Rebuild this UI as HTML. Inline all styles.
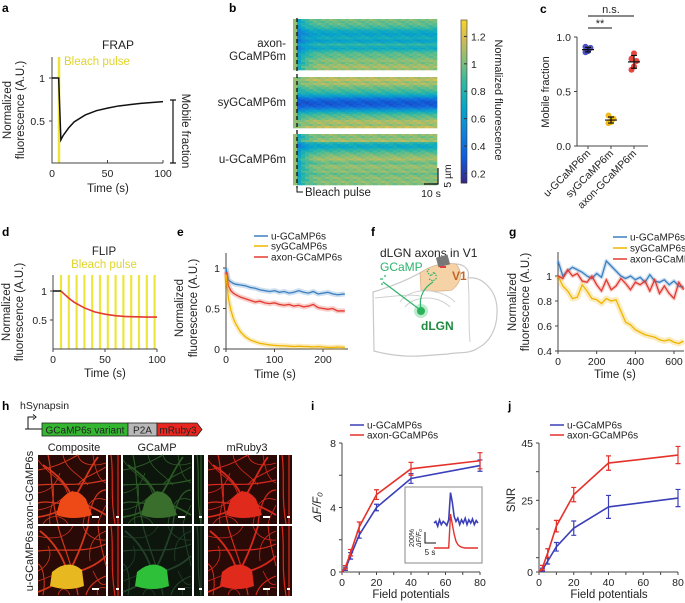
<!DOCTYPE html>
<html><head><meta charset="utf-8"><style>
html,body{margin:0;padding:0;background:#fff;}
svg{display:block;}
text{font-family:"Liberation Sans",sans-serif;fill:#222;}
.pl{font-weight:bold;font-size:12px;fill:#000;}
.tk{font-size:10.5px;}
.ax{stroke:#444;stroke-width:1;fill:none;}
</style></head><body>
<svg id="fig" width="685" height="603" viewBox="0 0 685 603" xmlns="http://www.w3.org/2000/svg">
<defs>
<g id="dendTop" fill="none" stroke="currentColor" stroke-width="1.8">
<path d="M35,45 C30,30 20,20 5,10"/><path d="M35,45 C45,30 50,15 60,2"/><path d="M35,45 C50,50 60,55 68,60"/><path d="M35,45 C25,55 15,60 0,62"/><path d="M0,30 C20,28 40,32 68,25" stroke-width="1.2"/><path d="M10,0 C15,20 12,40 20,69" stroke-width="1.2"/><path d="M50,69 C52,50 58,35 68,35" stroke-width="1.2"/><path d="M0,48 C10,45 20,50 30,48" stroke-width="1.2"/><path d="M0,15 C20,12 30,5 40,0" stroke-width="1"/><path d="M68,12 C55,20 45,22 40,30" stroke-width="1"/>
<path d="M0,5 C15,25 25,22 30,40" stroke-width="0.8"/><path d="M25,0 C28,15 40,18 50,30" stroke-width="0.8"/><path d="M68,45 C55,40 48,48 45,69" stroke-width="0.8"/><path d="M0,38 C12,36 18,30 22,18" stroke-width="0.8"/><path d="M5,69 C12,58 25,60 30,69" stroke-width="0.8"/><path d="M60,69 C62,60 66,55 68,50" stroke-width="0.8"/><path d="M40,0 C42,10 55,12 68,8" stroke-width="0.8"/><path d="M0,55 C20,52 25,40 35,36" stroke-width="0.8"/><path d="M55,0 C58,20 62,25 68,28" stroke-width="0.8"/><path d="M15,30 C18,45 10,55 12,69" stroke-width="0.8"/>
</g>
<g id="dendBot" fill="none" stroke="currentColor" stroke-width="1.8">
<path d="M30,48 C25,30 15,15 2,5"/><path d="M30,48 C40,30 45,15 50,0"/><path d="M30,48 C45,45 58,40 68,30"/><path d="M30,48 C20,58 10,62 0,66"/><path d="M0,25 C25,22 45,28 68,18" stroke-width="1.2"/><path d="M20,0 C25,20 35,40 40,69" stroke-width="1.2"/><path d="M68,50 C55,55 50,62 48,69" stroke-width="1.2"/><path d="M5,69 C8,55 5,40 0,38" stroke-width="1"/><path d="M60,0 C62,20 66,30 68,40" stroke-width="1"/>
<path d="M0,10 C20,15 30,10 35,0" stroke-width="0.8"/><path d="M68,5 C55,10 50,20 52,35" stroke-width="0.8"/><path d="M0,45 C10,40 15,30 10,20" stroke-width="0.8"/><path d="M68,62 C60,60 58,65 60,69" stroke-width="0.8"/><path d="M20,69 C22,62 28,60 32,69" stroke-width="0.8"/><path d="M45,0 C48,10 58,15 68,14" stroke-width="0.8"/><path d="M0,55 C15,50 20,45 25,48" stroke-width="0.8"/><path d="M55,45 C60,55 62,60 68,58" stroke-width="0.8"/>
</g>
</defs>

<text class="pl" x="2" y="12">a</text>
<text class="pl" x="229" y="12">b</text>
<text class="pl" x="540" y="13">c</text>
<text class="pl" x="2" y="236">d</text>
<text class="pl" x="177" y="236">e</text>
<text class="pl" x="371" y="236">f</text>
<text class="pl" x="509" y="236">g</text>
<text class="pl" x="2" y="410">h</text>
<text class="pl" x="311" y="410">i</text>
<text class="pl" x="508" y="410">j</text>

<g id="pa">
<text x="118" y="49" text-anchor="middle" font-size="12">FRAP</text>
<line x1="59" y1="57" x2="59" y2="163" stroke="#ece33a" stroke-width="2.5"/>
<text x="64" y="65" font-size="11.5" style="fill:#e0d42a">Bleach pulse</text>
<path class="ax" d="M52,57 V163 H163"/>
<g class="ax"><line x1="52" y1="78" x2="49" y2="78"/><line x1="52" y1="121" x2="49" y2="121"/><line x1="107.5" y1="163" x2="107.5" y2="160"/><line x1="163" y1="163" x2="163" y2="160"/></g>
<text class="tk" x="45" y="82" text-anchor="end">1</text>
<text class="tk" x="45" y="125" text-anchor="end">0.5</text>
<text class="tk" x="52" y="177" text-anchor="middle">0</text>
<text class="tk" x="107.5" y="177" text-anchor="middle">50</text>
<text class="tk" x="163" y="177" text-anchor="middle">100</text>
<text x="108" y="192" text-anchor="middle" font-size="11.5">Time (s)</text>
<text transform="rotate(-90 11 110)" x="11" y="110" text-anchor="middle" font-size="11.5">Normalized</text>
<text transform="rotate(-90 24 110)" x="24" y="110" text-anchor="middle" font-size="11.5">fluorescence  (A.U.)</text>
<path d="M170,100 H176 M173,100 V163 M170,163 H176" stroke="#111" stroke-width="1.2" fill="none"/>
<text transform="rotate(90 182 131)" x="182" y="131" text-anchor="middle" font-size="11.5">Mobile fraction</text>
</g>

<g id="pb">
<text x="286" y="47" text-anchor="end" font-size="11.5">axon-</text>
<text x="286" y="60" text-anchor="end" font-size="11.5">GCaMP6m</text>
<text x="286" y="106" text-anchor="end" font-size="11.5">syGCaMP6m</text>
<text x="286" y="163" text-anchor="end" font-size="11.5">u-GCaMP6m</text>
<g id="heat"></g>
<line x1="297" y1="18" x2="297" y2="188" stroke="#111" stroke-width="1.3" stroke-dasharray="4,3"/>
<path d="M297,186 V192 H303" stroke="#111" fill="none"/>
<text x="305" y="196" font-size="11.5">Bleach pulse</text>
<path d="M438,168 V184 H424" stroke="#111" stroke-width="1.2" fill="none"/>
<text transform="rotate(-90 451 176)" x="451" y="176" text-anchor="middle" font-size="10.5">5 µm</text>
<text x="431" y="197" text-anchor="middle" font-size="10.5">10 s</text>
<g id="cbar"></g>
<text transform="rotate(90 495 100)" x="495" y="100" text-anchor="middle" font-size="11">Normalized fluorescence</text>
</g>

<g id="pc">
<path class="ax" d="M577,37 V146 H648"/>
<text transform="rotate(-90 549 92)" x="549" y="92" text-anchor="middle" font-size="11">Mobile fraction</text>
<path d="M588,28 H612 M588,16 H634" stroke="#111" fill="none"/>
<text x="600" y="27" text-anchor="middle" font-size="11">**</text>
<text x="611" y="13" text-anchor="middle" font-size="11">n.s.</text>
</g>

<g id="pd">
<text x="104" y="255" text-anchor="middle" font-size="11.5">FLIP</text>
<text x="104" y="268" text-anchor="middle" font-size="11.5" style="fill:#e0d42a">Bleach pulse</text>
<text transform="rotate(-90 10 312)" x="10" y="312" text-anchor="middle" font-size="11.5">Normalized</text>
<text transform="rotate(-90 23 312)" x="23" y="312" text-anchor="middle" font-size="11.5">fluorescence (A.U.)</text>
<text x="105" y="377" text-anchor="middle" font-size="11.5">Time (s)</text>
</g>
<g id="pe">
<text transform="rotate(-90 183 308)" x="183" y="308" text-anchor="middle" font-size="11.5">Normalized</text>
<text transform="rotate(-90 197 308)" x="197" y="308" text-anchor="middle" font-size="11.5">fluorescence (A.U.)</text>
<text x="275" y="378" text-anchor="middle" font-size="11.5">Time (s)</text>
</g>

<g id="pf">
<path d="M373,292 C390,287 405,281 418,274 C428,268 440,264 455,264 C465,264 470,270 468,278 C482,276 496,290 497,308 C498,328 490,342 478,348 C470,354 458,352 448,354 L420,356 C400,357 385,354 374,351 Z" fill="#fff" stroke="#c8c8c8" stroke-width="1.2"/>
<path d="M420,273 C430,266 442,262 456,264 C463,272 462,282 452,290 C440,292 430,291 421,290 Z" fill="#f6d3a6" stroke="#d8b088" stroke-width="0.8"/>
<path d="M400,302 C410,287 440,287 455,302 M405,307 C415,295 438,295 450,307 M468,278 C470,300 468,320 470,342 M375,298 C395,296 410,294 420,296" fill="none" stroke="#cfcfcf" stroke-width="1"/>
<text x="380" y="257" font-size="12">dLGN axons in V1</text>
<text x="380" y="271" font-size="12" style="fill:#2db46b">GCaMP</text>
<circle cx="421" cy="311" r="7" fill="#3dc46d" opacity="0.35"/>
<circle cx="421" cy="311" r="4" fill="#2ab35a"/>
<path d="M383,282 L419,309 M421,309 C418,296 425,287 433,282" fill="none" stroke="#2db46b" stroke-width="1.2"/>
<path d="M428,273 l3,3 l3,-4 l3,5 m-8,2 l4,2 l4,-3 m-10,-6 l2,-3" fill="none" stroke="#2db46b" stroke-width="1.2" stroke-dasharray="1.5,1"/>
<path d="M380,279 h3 M384,276 h2 M381,284 h2" stroke="#2db46b" stroke-width="1.2"/>
<rect x="437" y="256" width="12" height="10" fill="#777" transform="rotate(-15 443 261)"/>
<rect x="440" y="266" width="6" height="2" fill="#e24040"/>
<text x="452" y="280" font-size="12" font-weight="bold" style="fill:#c0662b">V1</text>
<text x="421" y="330" font-size="12" font-weight="bold" style="fill:#1f8a3e">dLGN</text>
</g>

<g id="pg">
<text transform="rotate(-90 516 302)" x="516" y="302" text-anchor="middle" font-size="11.5">Normalized</text>
<text transform="rotate(-90 529 302)" x="529" y="302" text-anchor="middle" font-size="11.5">fluorescence (A.U.)</text>
<text x="615" y="378" text-anchor="middle" font-size="11.5">Time (s)</text>
</g>

<g id="ph">
<text x="20" y="409" font-size="10.5">hSynapsin</text>
<path d="M25,429 H42 M28,429 V417 H34" stroke="#111" fill="none" stroke-width="1"/>
<path d="M33,414.5 L36,417 L33,419.5" stroke="#111" fill="none"/>
<rect x="42" y="423" width="86" height="13" fill="#35b631" stroke="#222" stroke-width="0.8"/>
<rect x="128" y="423" width="29" height="13" fill="#b8b8b8" stroke="#222" stroke-width="0.8"/>
<path d="M157,423 H197 L202,429.5 L197,436 H157 Z" fill="#e8261f" stroke="#222" stroke-width="0.8"/>
<text x="85" y="433.5" text-anchor="middle" font-size="10">GCaMP6s variant</text>
<text x="142.5" y="433.5" text-anchor="middle" font-size="10">P2A</text>
<text x="178" y="433.5" text-anchor="middle" font-size="10">mRuby3</text>
<text x="74" y="451" text-anchor="middle" font-size="11">Composite</text>
<text x="157" y="451" text-anchor="middle" font-size="11">GCaMP</text>
<text x="247" y="451" text-anchor="middle" font-size="11">mRuby3</text>
<text transform="rotate(-90 33 490)" x="33" y="490" text-anchor="middle" font-size="11">axon-GCaMP6s</text>
<text transform="rotate(-90 33 561)" x="33" y="561" text-anchor="middle" font-size="11">u-GCaMP6s</text>
<g id="imgs"></g>
</g>

<g id="pi">
<text transform="rotate(-90 321 507)" x="321" y="507" text-anchor="middle" font-size="11.5" font-style="italic">ΔF/F₀</text>
<text x="411" y="598" text-anchor="middle" font-size="11.5">Field potentials</text>
<rect x="405" y="487" width="77" height="76" fill="#fff" stroke="#888" stroke-width="1"/>
<path d="M425,532 V543 H436" stroke="#111" fill="none"/>
<text transform="rotate(-90 414 538)" x="414" y="538" text-anchor="middle" font-size="7">200%</text>
<text transform="rotate(-90 421 538)" x="421" y="538" text-anchor="middle" font-size="7" font-style="italic">ΔF/F₀</text>
<text x="430" y="555" text-anchor="middle" font-size="8">5 s</text>
</g>
<g id="pj">
<text transform="rotate(-90 515 500)" x="515" y="500" text-anchor="middle" font-size="11.5">SNR</text>
<text x="609" y="598" text-anchor="middle" font-size="11.5">Field potentials</text>
</g>
</svg>

<script>
// ---------- data ----------
const aT = [0, 6, 8, 10, 15, 20, 30, 40, 50, 60, 70, 80, 90, 100];
const aV = [1, 1, 0.28, 0.33, 0.42, 0.49, 0.57, 0.62, 0.65, 0.675, 0.69, 0.705, 0.715, 0.725];

const hmAxon = [1.0,0.95,0.95,0.9,0.85,0.75,0.7,0.65,0.7,0.75,0.65,0.7,0.85,0.75,0.7,0.8,0.9,0.95,0.95,1.0,1.05,1.0,1.05,1.1,1.05];
const hmSy = [1.1,1.15,1.05,1.1,1.0,0.95,0.9,0.85,0.75,0.62,0.45,0.35,0.3,0.3,0.35,0.48,0.65,0.78,0.9,0.95,1.0,1.1,1.1,1.05,1.15];
const hmU = [1.05,1.0,1.05,1.1,0.8,0.72,0.7,0.8,0.88,0.95,1.0,1.05,1.1,1.0,0.95,1.05,1.05,1.0,1.05,0.95,1.0,1.05,1.0,1.05,1.0];
const cbTicks = [0.2, 0.4, 0.6, 0.8, 1, 1.2];
const cbLabels = ["0.2", "0.4", "0.6", "0.8", "1", "1.2"];

const cCats = ["u-GCaMP6m", "syGCaMP6m", "axon-GCaMP6m"];
const cBlue = [0.86, 0.88, 0.90, 0.91, 0.87];
const cYel = [0.21, 0.23, 0.25, 0.28, 0.22];
const cRed = [0.70, 0.73, 0.78, 0.80, 0.85];
const cTicks = [0, 0.5, 1.0];
const cTickLabels = ["0.0", "0.5", "1.0"];

const dT = [0, 7.7, 10, 15, 20, 30, 40, 50, 60, 70, 80, 90, 100];
const dV = [1, 1, 0.96, 0.88, 0.81, 0.71, 0.64, 0.6, 0.575, 0.56, 0.555, 0.55, 0.55];
const dPulses = [7.7, 15.2, 22.7, 30.2, 37.7, 45.2, 52.7, 60.2, 67.7, 75.2, 82.7, 90.2, 97.7];

const eT = [0,5,10,15,20,30,40,50,60,70,80,90,100,110,120,130,140,150,160,170,180,190,200,210,220,230,245];
const eU = [1.0,0.85,0.83,0.81,0.80,0.79,0.78,0.76,0.75,0.73,0.72,0.71,0.72,0.70,0.71,0.69,0.70,0.72,0.70,0.69,0.71,0.68,0.69,0.70,0.68,0.67,0.68];
const eSy = [0.92,0.62,0.48,0.38,0.31,0.21,0.15,0.11,0.09,0.07,0.06,0.05,0.045,0.04,0.04,0.035,0.03,0.035,0.03,0.03,0.025,0.03,0.025,0.02,0.02,0.025,0.02];
const eAx = [0.95,0.78,0.72,0.69,0.67,0.64,0.62,0.60,0.58,0.59,0.57,0.56,0.57,0.55,0.54,0.55,0.53,0.54,0.52,0.53,0.55,0.51,0.50,0.49,0.50,0.47,0.47];

const gT = [0,25,50,75,100,125,150,175,200,225,250,275,300,325,350,375,400,425,450,475,500,525,550,575,600,625,650];
const gU = [1.12,1.0,1.04,1.07,1.05,1.03,1.0,0.98,1.02,0.99,1.12,1.08,1.04,1.0,0.98,1.0,0.97,0.99,0.95,1.01,0.96,0.95,0.97,0.93,0.96,0.92,0.91];
const gAx = [1.0,0.98,1.05,1.0,1.02,0.96,0.95,1.0,0.93,0.88,0.97,0.89,0.92,0.98,0.94,0.89,0.95,0.93,0.96,0.88,0.97,0.86,0.92,0.86,0.82,0.95,0.89];
const gSy = [1.0,0.92,0.88,0.82,0.83,0.93,0.88,0.82,0.81,0.78,0.82,0.80,0.81,0.72,0.63,0.61,0.57,0.55,0.53,0.52,0.51,0.49,0.48,0.49,0.47,0.46,0.48];

const fp = [0, 2, 5, 10, 20, 40, 80];
const iRed = [0, 0.3, 1.2, 2.8, 4.8, 6.4, 6.9];
const iRedErr = [0, 0.1, 0.2, 0.3, 0.3, 0.4, 0.5];
const iBlue = [0, 0.2, 1.0, 2.3, 4.0, 5.8, 6.6];
const iBlueErr = [0, 0.1, 0.2, 0.2, 0.2, 0.3, 0.35];
const jRed = [0, 1.5, 6.6, 16, 27, 38, 40.8];
const jRedErr = [0, 0.8, 1.5, 2, 2.5, 2.5, 3];
const jBlue = [0, 0.8, 3.8, 8.8, 15.3, 22.7, 25.8];
const jBlueErr = [0, 0.5, 1, 1.5, 2.5, 4, 3];
const insetBlue = [0,0.1,-0.2,0.2,-0.1,0.1,0,-0.15,0.2,1.9,1.3,0.4,0.1,0.3,-0.1,0.2,0,0.3,-0.1,0.2,0,0.25,-0.1,0.15,0];
const insetRed = [0,0,0,0,0,0,0,0,0,2.0,1.4,0.8,0.4,0.2,0.1,0.05,0.02,0,0,0,0,0,0,0,0];

// ---------- helpers ----------
const NS = "http://www.w3.org/2000/svg";
const svg = document.getElementById("fig");
function mk(tag, parent, attrs){const e=document.createElementNS(NS,tag);for(const k in attrs)e.setAttribute(k,attrs[k]);(parent||svg).appendChild(e);return e;}
function scale(d0,d1,r0,r1){return v=>r0+(v-d0)*(r1-r0)/(d1-d0);}
function pts(xs,ys,sx,sy){return xs.map((x,i)=>sx(x).toFixed(2)+","+sy(ys[i]).toFixed(2)).join(" ");}

// ---------- panel a ----------
{
const sx=scale(0,100,52,163), sy=scale(0,1,164,78);
const e=mk("polyline",null,{points:pts(aT,aV,sx,sy),fill:"none",stroke:"#111","stroke-width":1.5});


}

// ---------- panel b heatmaps ----------
function parula(v){
  const stops=[[0,[53,42,135]],[0.15,[15,92,221]],[0.3,[20,129,214]],[0.45,[6,164,202]],[0.6,[46,183,164]],[0.75,[135,191,119]],[0.88,[209,187,89]],[1,[249,215,40]]];
  const t=Math.max(0,Math.min(1,(v-0.13)/(1.32-0.13)));
  for(let i=1;i<stops.length;i++){if(t<=stops[i][0]){const a=stops[i-1],b=stops[i];const f=(t-a[0])/(b[0]-a[0]);return "rgb("+a[1].map((c,k)=>Math.round(c+(b[1][k]-c)*f)).join(",")+")";}}
  return "rgb(249,215,40)";
}
{
const heat=document.getElementById("heat");
const rows=[[hmAxon,19,"axon"],[hmSy,77,"sy"],[hmU,134,"u"]];
rows.forEach(([prof,y0,nm])=>{
  const g=mk("g",heat,{});
  
  
  const bh=51/prof.length;
  prof.forEach((v,i)=>{
    const y=y0+i*bh;
    const pre=mk("rect",g,{x:293,y:y.toFixed(2),width:4,height:(bh+0.3).toFixed(2),fill:parula(1.05)});
    
    
    for(let c=0;c<35;c++){
      const x=297+c*4;
      const depth=(nm==="sy"?0.1:0.3)*Math.exp(-c/2);
      const val=v*(1-depth)+((i*7+c*3)%5-2)*0.025;
      const r=mk("rect",g,{x:x,y:y.toFixed(2),width:4.3,height:(bh+0.3).toFixed(2),fill:parula(val)});
      
      
    }
  });
});
const cb=document.getElementById("cbar");
const csy=scale(0.13,1.32,183,20);
for(let i=0;i<60;i++){
  const v=0.13+i*(1.19/60);
  const r=mk("rect",cb,{x:461,y:csy(v+1.19/60).toFixed(2),width:6,height:(163/60+0.4).toFixed(2),fill:parula(v)});
  
  
}
const fr=mk("rect",cb,{x:461,y:20,width:6,height:163,fill:"none",stroke:"#333","stroke-width":0.6});


cbTicks.forEach((t,i)=>{
  const l=mk("line",cb,{x1:467,x2:464,y1:csy(t),y2:csy(t),stroke:"#333"});
  
  
  const tx=mk("text",cb,{x:471,y:csy(t)+4,"font-size":"10.5"});
  tx.textContent=cbLabels[i];
  
  
});
}

// ---------- panel c ----------
{
const pc=document.getElementById("pc");
const sy=scale(0,1,146,37);
const xs=[588,611,634];
cTicks.forEach((t,i)=>{
  const l=mk("line",pc,{x1:577,x2:574,y1:sy(t),y2:sy(t),stroke:"#444"});
  
  
  const tx=mk("text",pc,{x:571,y:sy(t)+4,"text-anchor":"end","font-size":"10.5"});
  tx.textContent=cTickLabels[i];
  
  
});
const sets=[[cBlue,"#3b3fb8"],[cYel,"#f0b400"],[cRed,"#e4312a"]];
sets.forEach(([arr,col],k)=>{
  const x=xs[k];
  const l=mk("line",pc,{x1:x,x2:x,y1:146,y2:149,stroke:"#444"});
  
  
  const tx=mk("text",pc,{x:x+3,y:154,"text-anchor":"end","font-size":"10.5",transform:"rotate(-45 "+(x+3)+" 154)"});
  tx.textContent=cCats[k];
  
  
  arr.forEach((v,i)=>{
    const c=mk("circle",pc,{cx:x+((i%3)-1)*2.5,cy:sy(v),r:3,fill:col,opacity:0.9});
    
    
  });
  const m=arr.reduce((a,b)=>a+b,0)/arr.length;
  const sd=Math.sqrt(arr.reduce((a,b)=>a+(b-m)*(b-m),0)/(arr.length-1));
  const eb=mk("path",pc,{d:`M${x-6},${sy(m)} H${x+6} M${x},${sy(m+sd)} V${sy(m-sd)} M${x-3},${sy(m+sd)} H${x+3} M${x-3},${sy(m-sd)} H${x+3}`,stroke:"#111","stroke-width":1.2,fill:"none"});
  
  
});
}

// ---------- generic axes ----------
function axes(parent,prefix,x0,x1,y0,y1,xt,xl,yt,yl,sx,sy){
  const a=mk("path",parent,{d:`M${x0},${y1} V${y0} H${x1}`,class:"ax"});
  
  
  xt.forEach((t,i)=>{
    const l=mk("line",parent,{x1:sx(t),x2:sx(t),y1:y0,y2:y0+3,stroke:"#444"});
    
    
    if(xl[i]!==""){
      const tx=mk("text",parent,{x:sx(t),y:y0+14,"text-anchor":"middle","font-size":"10.5"});
      tx.textContent=xl[i];
      
      
    }
  });
  yt.forEach((t,i)=>{
    const l=mk("line",parent,{x1:x0,x2:x0-3,y1:sy(t),y2:sy(t),stroke:"#444"});
    
    
    if(yl[i]!==""){
      const tx=mk("text",parent,{x:x0-6,y:sy(t)+4,"text-anchor":"end","font-size":"10.5"});
      tx.textContent=yl[i];
      
      
    }
  });
}
function legend(parent,prefix,x,ys,names,cols){
  names.forEach((n,i)=>{
    const l=mk("line",parent,{x1:x,x2:x+14,y1:ys[i],y2:ys[i],stroke:cols[i],"stroke-width":1.5});
    
    
    const t=mk("text",parent,{x:x+17,y:ys[i]+3.5,"font-size":"10"});
    t.textContent=n;
    
    
  });
}

// ---------- panel d ----------
{
const pd=document.getElementById("pd");
const sx=scale(0,100,53,157), sy=scale(0,1,349,291);
dPulses.forEach(t=>{
  const l=mk("line",pd,{x1:sx(t),x2:sx(t),y1:275,y2:349,stroke:"#ede540","stroke-width":2.2});
  
  
});
axes(pd,"flip",53,157,349,275,[0,50,100],["0","50","100"],[0.5,1],["0.5","1"],sx,sy);
const k=mk("polyline",pd,{points:pts(dT.slice(0,2),dV.slice(0,2),sx,sy),fill:"none",stroke:"#111","stroke-width":1.5});


const c=mk("polyline",pd,{points:pts(dT.slice(1),dV.slice(1),sx,sy),fill:"none",stroke:"#e23a2f","stroke-width":1.6});


}

// ---------- panel e ----------
{
const pe=document.getElementById("pe");
const sx=scale(0,200,226,323), sy=scale(0,1,349,268);
axes(pe,"e",226,348,349,253,[0,100,200],["0","100","200"],[0,0.5,1],["0","0.5","1"],sx,sy);
const series=[[eU,"#3a7fc1","u"],[eAx,"#e23a2f","axon"],[eSy,"#f0b400","sy"]];
series.forEach(([arr,col,nm])=>{
  const band=mk("polyline",pe,{points:pts(eT,arr,sx,sy),fill:"none",stroke:col,"stroke-width":5,opacity:0.25,"stroke-linejoin":"round"});
  
  
  const l=mk("polyline",pe,{points:pts(eT,arr,sx,sy),fill:"none",stroke:col,"stroke-width":1.3});
  
  
});
legend(pe,"e",254,[236,246,257],["u-GCaMP6s","syGCaMP6s","axon-GCaMP6s"],["#3a7fc1","#f0b400","#e23a2f"]);
}

// ---------- panel g ----------
{
const pg=document.getElementById("pg");
const sx=scale(0,600,558,674), sy=scale(0.4,1,351,276);
axes(pg,"g",558,684,351,252,[0,200,400,600],["0","200","400","600"],[0.4,0.6,0.8,1],["0.4","0.6","0.8","1"],sx,sy);
const series=[[gSy,"#f0b400","sy"],[gU,"#3a7fc1","u"],[gAx,"#e23a2f","axon"]];
series.forEach(([arr,col,nm])=>{
  const band=mk("polyline",pg,{points:pts(gT,arr,sx,sy),fill:"none",stroke:col,"stroke-width":nm==="sy"?6:4,opacity:0.25,"stroke-linejoin":"round"});
  
  
  const l=mk("polyline",pg,{points:pts(gT,arr,sx,sy),fill:"none",stroke:col,"stroke-width":1.3});
  
  
});
legend(pg,"g",613,[237,248,259],["u-GCaMP6s","syGCaMP6s","axon-GCaMP6s"],["#3a7fc1","#f0b400","#e23a2f"]);
}

// ---------- panels i, j ----------
function errChart(parent,prefix,sx,sy,ys,errs,col,nm){
  const l=mk("polyline",parent,{points:pts(fp,ys,sx,sy),fill:"none",stroke:col,"stroke-width":1.6});
  
  
  fp.forEach((f,i)=>{
    if(errs[i]<=0) return;
    const x=sx(f);
    const e=mk("path",parent,{d:`M${x},${sy(ys[i]+errs[i])} V${sy(ys[i]-errs[i])} M${x-2.5},${sy(ys[i]+errs[i])} H${x+2.5} M${x-2.5},${sy(ys[i]-errs[i])} H${x+2.5}`,stroke:col,"stroke-width":1.2,fill:"none"});
    
    
  });
}
{
const pi=document.getElementById("pi");
const sx=scale(0,80,342,480), sy=scale(0,8,572,443);
axes(pi,"i",342,480,572,443,[0,10,20,30,40,50,60,70,80],["0","","20","","40","","60","","80"],[0,2,4,6,8],["0","","4","","8"],sx,sy);
errChart(pi,"i",sx,sy,iBlue,iBlueErr,"#3b3fb8","u");
errChart(pi,"i",sx,sy,iRed,iRedErr,"#e4312a","axon");
legend(pi,"i",350,[425,435],["u-GCaMP6s","axon-GCaMP6s"],["#3b3fb8","#e4312a"]);
const isx=scale(0,24,434,478);
const b=mk("polyline",pi,{points:insetBlue.map((v,i)=>isx(i).toFixed(1)+","+(523-v*16).toFixed(1)).join(" "),fill:"none",stroke:"#3b3fb8","stroke-width":1.6});


const r=mk("polyline",pi,{points:insetRed.map((v,i)=>(isx(i)).toFixed(1)+","+(548-v*17).toFixed(1)).join(" "),fill:"none",stroke:"#e4312a","stroke-width":1.4});


}
{
const pj=document.getElementById("pj");
const sx=scale(0,80,539,678), sy=scale(0,45,572,443);
axes(pj,"j",539,678,572,443,[0,10,20,30,40,50,60,70,80],["0","","20","","40","","60","","80"],[0,5,15,25,35,45],["0","","","25","","45"],sx,sy);
errChart(pj,"j",sx,sy,jBlue,jBlueErr,"#3b3fb8","u");
errChart(pj,"j",sx,sy,jRed,jRedErr,"#e4312a","axon");
legend(pj,"j",550,[425,435],["u-GCaMP6s","axon-GCaMP6s"],["#3b3fb8","#e4312a"]);
}

// ---------- micrographs ----------
{
const imgs=document.getElementById("imgs");
const cols=[[38,68,"composite"],[108,13,"strip1"],[123,69,"gcamp"],[194,10,"strip2"],[208,69,"mruby"],[279,13,"strip3"]];
const rows=[[455,69,"top"],[526,70,"bottom"]];
rows.forEach(([y,h,rn])=>{
  cols.forEach(([x,w,cn])=>{
    const g=mk("g",imgs,{});
    
    
    const isG=cn==="gcamp"||cn==="strip2";
    const bg=mk("rect",g,{x:x,y:y,width:w,height:h,fill:isG?"#0c160c":"#2a0a06"});
    
    
    let dcol="#d8281c", cell="#e02a1c";
    if(cn==="composite"){dcol="#d4361c";cell=rn==="top"?"#ee4a18":"#e8b820";}
    if(isG){dcol=rn==="top"?"#2c5a26":"#23402a";cell=rn==="top"?"#3a6e2c":"#2fc03a";}
    if(w>20){
      const u=mk("use",g,{href:rn==="top"?"#dendTop":"#dendBot",transform:`translate(${x},${y})`,style:"color:"+dcol});
      
      
      const body=mk("path",g,{d:rn==="top"?"M22,46 Q35,28 48,44 L54,60 Q35,66 18,60 Z":"M14,46 Q30,32 44,44 L46,60 Q30,66 12,60 Z",fill:cell,transform:`translate(${x},${y})`});
      
      
    } else {
      const s=mk("path",g,{d:`M${x+3},${y} C${x+6},${y+20} ${x+2},${y+40} ${x+7},${y+h} M${x+w-3},${y} V${y+h}`,stroke:dcol,"stroke-width":1.2,fill:"none"});
      
      
    }
    const sb=mk("rect",g,{x:x+w-(w>20?14:5),y:y+h-8,width:w>20?7:3,height:2,fill:"#fff"});
    
    
  });
});
}
</script>
</body></html>
